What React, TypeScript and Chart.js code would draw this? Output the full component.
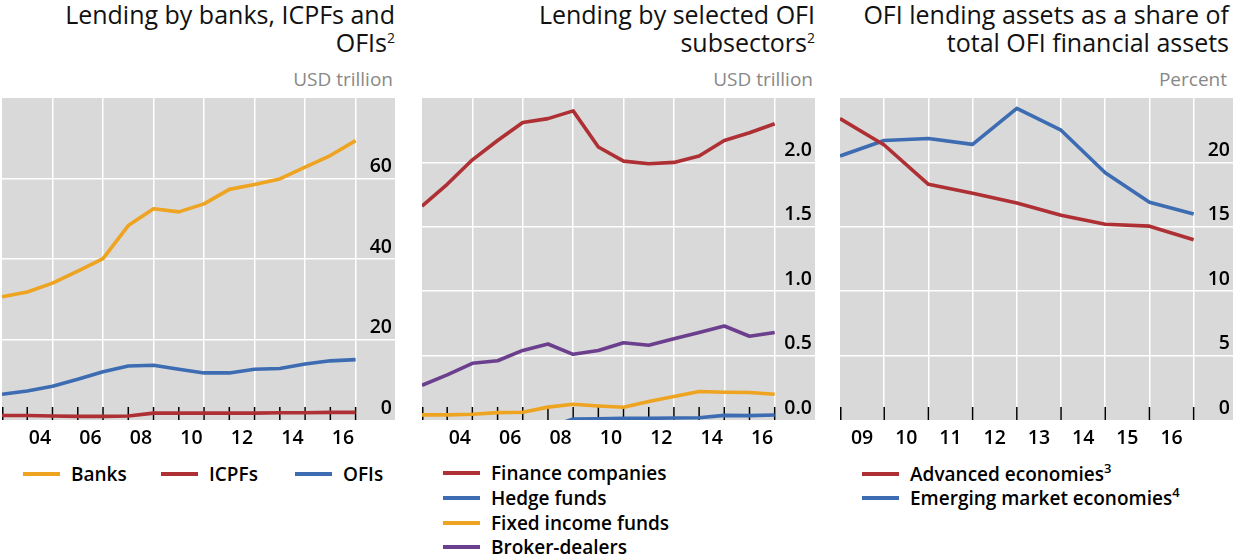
import React, { useEffect, useRef } from 'react';
import { Chart, registerables } from 'chart.js';

Chart.register(...registerables);

const FONT = "'Open Sans', 'Noto Sans', sans-serif";

// ---------- Panel 1: Lending by banks, ICPFs and OFIs (USD trillion) ----------
const yearsA = [2002, 2003, 2004, 2005, 2006, 2007, 2008, 2009, 2010, 2011, 2012, 2013, 2014, 2015, 2016];
const banks = [30.6, 31.8, 34.0, 37.0, 40.1, 48.3, 52.5, 51.7, 53.7, 57.3, 58.5, 59.9, 62.8, 65.7, 69.4];
const icpfs = [1.1, 1.1, 1.0, 0.9, 0.9, 1.0, 1.7, 1.7, 1.7, 1.7, 1.7, 1.8, 1.8, 1.9, 1.9];
const ofis = [6.4, 7.2, 8.4, 10.1, 12.0, 13.4, 13.6, 12.6, 11.7, 11.7, 12.6, 12.8, 13.9, 14.7, 15.0];
const tickLabelsA = ['04', '06', '08', '10', '12', '14', '16'];

// ---------- Panel 2: Lending by selected OFI subsectors (USD trillion) ----------
const financeCompanies = [1.66, 1.83, 2.02, 2.17, 2.31, 2.34, 2.40, 2.12, 2.01, 1.99, 2.0, 2.05, 2.17, 2.23, 2.30];
const yearsHedge = [2007, 2008, 2009, 2010, 2011, 2012, 2013, 2014, 2015, 2016];
const hedgeFunds = [-0.06, 0.008, 0.01, 0.013, 0.013, 0.016, 0.018, 0.036, 0.034, 0.039];
const fixedIncomeFunds = [0.04, 0.04, 0.045, 0.057, 0.06, 0.10, 0.122, 0.109, 0.099, 0.143, 0.182, 0.221, 0.216, 0.214, 0.20];
const brokerDealers = [0.27, 0.35, 0.44, 0.46, 0.54, 0.59, 0.51, 0.54, 0.60, 0.58, 0.63, 0.68, 0.73, 0.65, 0.68];

// ---------- Panel 3: OFI lending assets as share of OFI financial assets (%) ----------
const yearsC = [2008, 2009, 2010, 2011, 2012, 2013, 2014, 2015, 2016];
const advancedEconomies = [23.4, 21.35, 18.3, 17.6, 16.85, 15.9, 15.2, 15.05, 14.0];
const emergingEconomies = [20.5, 21.7, 21.85, 21.4, 24.2, 22.5, 19.2, 16.9, 16.0];
const tickLabelsC = ['09', '10', '11', '12', '13', '14', '15', '16'];

const ORANGE = '#eea321';
const RED = '#ae3034';
const BLUE = '#3d6cb3';
const PURPLE = '#6b3f8d';
const BG = '#d9d9d9';

// year-end values sit on the boundary after their year
const pts = (years: number[], vals: number[]) => years.map((y, i) => ({ x: y + 1, y: vals[i] }));

const bgPlugin = {
  id: 'plotBg',
  beforeDraw(chart: any) {
    const { ctx, chartArea } = chart;
    ctx.save();
    ctx.fillStyle = BG;
    ctx.fillRect(chartArea.left, chartArea.top, chartArea.right - chartArea.left, chartArea.bottom - chartArea.top);
    ctx.restore();
  },
};

const tickMarkPlugin = (values: number[]) => ({
  id: 'tickMarks',
  beforeDatasetsDraw(chart: any) {
    const { ctx, chartArea, scales } = chart;
    ctx.save();
    ctx.strokeStyle = '#000';
    ctx.lineWidth = 1.5;
    values.forEach((v) => {
      const px = Math.max(scales.x.getPixelForValue(v), chartArea.left + 0.75);
      ctx.beginPath();
      ctx.moveTo(px, chartArea.bottom);
      ctx.lineTo(px, chartArea.bottom - 13);
      ctx.stroke();
    });
    ctx.restore();
  },
});

interface PanelCfg {
  datasets: { data: { x: number; y: number }[]; color: string }[];
  xMin: number;
  xMax: number;
  gridX: number[];
  labels: string[];
  yMax: number;
  yStep: number;
  yDigits: number;
}

function buildConfig(p: PanelCfg): any {
  const labelMap = new Map<number, string>();
  p.labels.forEach((l) => labelMap.set(2000 + parseInt(l, 10) + 0.5, l));
  const gridSet = new Set(p.gridX);
  const allTicks = [...p.gridX, ...Array.from(labelMap.keys())].sort((a, b) => a - b);
  const tickMarks: number[] = [];
  for (let v = p.xMin; v <= p.gridX[p.gridX.length - 1]; v++) tickMarks.push(v);
  const tickFont = { family: FONT, size: 19.5, weight: '600' as const };
  return {
    type: 'line',
    data: {
      datasets: p.datasets.map((d) => ({
        data: d.data,
        borderColor: d.color,
        backgroundColor: d.color,
        borderWidth: 3.6,
        pointRadius: 0,
        tension: 0,
        fill: false,
        clip: 0,
        borderJoinStyle: 'round',
      })),
    },
    options: {
      animation: false,
      responsive: false,
      devicePixelRatio: 1,
      layout: { padding: { left: 2, right: 0, top: 0, bottom: 0 } },
      plugins: { legend: { display: false }, tooltip: { enabled: false } },
      scales: {
        x: {
          type: 'linear',
          min: p.xMin,
          max: p.xMax,
          afterBuildTicks: (s: any) => {
            s.ticks = allTicks.map((v) => ({ value: v }));
          },
          afterFit: (s: any) => {
            s.height = 37;
            s.paddingLeft = 0;
            s.paddingRight = 0;
          },
          ticks: {
            autoSkip: false,
            maxRotation: 0,
            minRotation: 0,
            padding: 7,
            color: '#000',
            font: tickFont,
            callback: (v: number) => labelMap.get(v) ?? '',
          },
          grid: {
            color: (c: any) => (c.tick && gridSet.has(c.tick.value) ? '#ffffff' : 'rgba(0,0,0,0)'),
            lineWidth: 1.5,
            drawTicks: false,
          },
          border: { display: false },
        },
        y: {
          position: 'right',
          min: 0,
          max: p.yMax,
          afterFit: (s: any) => {
            s.width = 0;
            s.paddingTop = 0;
            s.paddingBottom = 0;
          },
          ticks: {
            stepSize: p.yStep,
            mirror: true,
            padding: -3,
            labelOffset: -12,
            color: '#000',
            font: tickFont,
            callback: (v: number) => (v >= p.yMax - 1e-9 ? '' : v.toFixed(p.yDigits)),
          },
          grid: {
            color: (c: any) =>
              c.tick && c.tick.value > 1e-9 && c.tick.value < p.yMax - 1e-9 ? '#ffffff' : 'rgba(0,0,0,0)',
            lineWidth: 1.5,
            drawTicks: false,
          },
          border: { display: false },
        },
      },
    },
    plugins: [bgPlugin, tickMarkPlugin(tickMarks)],
  };
}

function ChartCanvas({ cfg, left }: { cfg: PanelCfg; left: number }) {
  const ref = useRef<HTMLCanvasElement>(null);
  useEffect(() => {
    if (!ref.current) return;
    const chart = new Chart(ref.current, buildConfig(cfg));
    return () => chart.destroy();
  }, [cfg]);
  return (
    <canvas
      ref={ref}
      width={395}
      height={359}
      style={{ position: 'absolute', left, top: 98, width: 395, height: 359 }}
    />
  );
}

const sup = (t: string, size = 14, top = -9) => (
  <span style={{ fontSize: size, position: 'relative', top, lineHeight: 0 }}>{t}</span>
);

function Title({ right, lines, unit }: { right: number; lines: React.ReactNode; unit: string }) {
  return (
    <>
      <div
        style={{
          position: 'absolute',
          right: 1236 - right,
          top: 0,
          textAlign: 'right',
          fontSize: 25,
          lineHeight: '28px',
          color: '#111111',
          whiteSpace: 'nowrap',
        }}
      >
        {lines}
      </div>
      <div
        style={{
          position: 'absolute',
          right: 1236 - right + 2,
          top: 68,
          fontSize: 19,
          lineHeight: '22px',
          color: '#888888',
          whiteSpace: 'nowrap',
        }}
      >
        {unit}
      </div>
    </>
  );
}

function LegendItem({ left, top, color, children }: { left: number; top: number; color: string; children: React.ReactNode }) {
  return (
    <div style={{ position: 'absolute', left, top, height: 24, display: 'flex', alignItems: 'center', whiteSpace: 'nowrap' }}>
      <span style={{ display: 'inline-block', width: 37, height: 4, background: color, marginRight: 11 }} />
      <span style={{ fontSize: 19, fontWeight: 600, color: '#000', lineHeight: '24px' }}>{children}</span>
    </div>
  );
}

const cfgA: PanelCfg = {
  datasets: [
    { data: pts(yearsA, icpfs), color: RED },
    { data: pts(yearsA, ofis), color: BLUE },
    { data: pts(yearsA, banks), color: ORANGE },
  ],
  xMin: 2003,
  xMax: 2018.56,
  gridX: [2005, 2007, 2009, 2011, 2013, 2015, 2017],
  labels: tickLabelsA,
  yMax: 80,
  yStep: 20,
  yDigits: 0,
};

const cfgB: PanelCfg = {
  datasets: [
    { data: pts(yearsHedge, hedgeFunds), color: BLUE },
    { data: pts(yearsA, fixedIncomeFunds), color: ORANGE },
    { data: pts(yearsA, brokerDealers), color: PURPLE },
    { data: pts(yearsA, financeCompanies), color: RED },
  ],
  xMin: 2003,
  xMax: 2018.6,
  gridX: [2005, 2007, 2009, 2011, 2013, 2015, 2017],
  labels: tickLabelsA,
  yMax: 2.5,
  yStep: 0.5,
  yDigits: 1,
};

const cfgC: PanelCfg = {
  datasets: [
    { data: pts(yearsC, advancedEconomies), color: RED },
    { data: pts(yearsC, emergingEconomies), color: BLUE },
  ],
  xMin: 2009,
  xMax: 2017.89,
  gridX: [2010, 2011, 2012, 2013, 2014, 2015, 2016, 2017],
  labels: tickLabelsC,
  yMax: 25,
  yStep: 5,
  yDigits: 0,
};

export default function App() {
  return (
    <div
      style={{
        position: 'absolute',
        left: 0,
        top: 0,
        width: 1236,
        height: 558,
        background: '#fff',
        fontFamily: FONT,
        overflow: 'hidden',
      }}
    >
      <Title
        right={395}
        unit="USD trillion"
        lines={
          <>
            Lending by banks, ICPFs and
            <br />
            OFIs{sup('2')}
          </>
        }
      />
      <Title
        right={815}
        unit="USD trillion"
        lines={
          <>
            Lending by selected OFI
            <br />
            subsectors{sup('2')}
          </>
        }
      />
      <Title
        right={1229}
        unit="Percent"
        lines={
          <>
            OFI lending assets as a share of
            <br />
            total OFI financial assets
          </>
        }
      />

      <ChartCanvas cfg={cfgA} left={0} />
      <ChartCanvas cfg={cfgB} left={420} />
      <ChartCanvas cfg={cfgC} left={838} />

      <LegendItem left={23} top={462} color={ORANGE}>Banks</LegendItem>
      <LegendItem left={161} top={462} color={RED}>ICPFs</LegendItem>
      <LegendItem left={295} top={462} color={BLUE}>OFIs</LegendItem>

      <LegendItem left={443} top={461} color={RED}>Finance companies</LegendItem>
      <LegendItem left={443} top={486} color={BLUE}>Hedge funds</LegendItem>
      <LegendItem left={443} top={511} color={ORANGE}>Fixed income funds</LegendItem>
      <LegendItem left={443} top={535} color={PURPLE}>Broker-dealers</LegendItem>

      <LegendItem left={862} top={462} color={RED}>Advanced economies{sup('3', 13, -8)}</LegendItem>
      <LegendItem left={862} top={486} color={BLUE}>Emerging market economies{sup('4', 13, -8)}</LegendItem>
    </div>
  );
}
